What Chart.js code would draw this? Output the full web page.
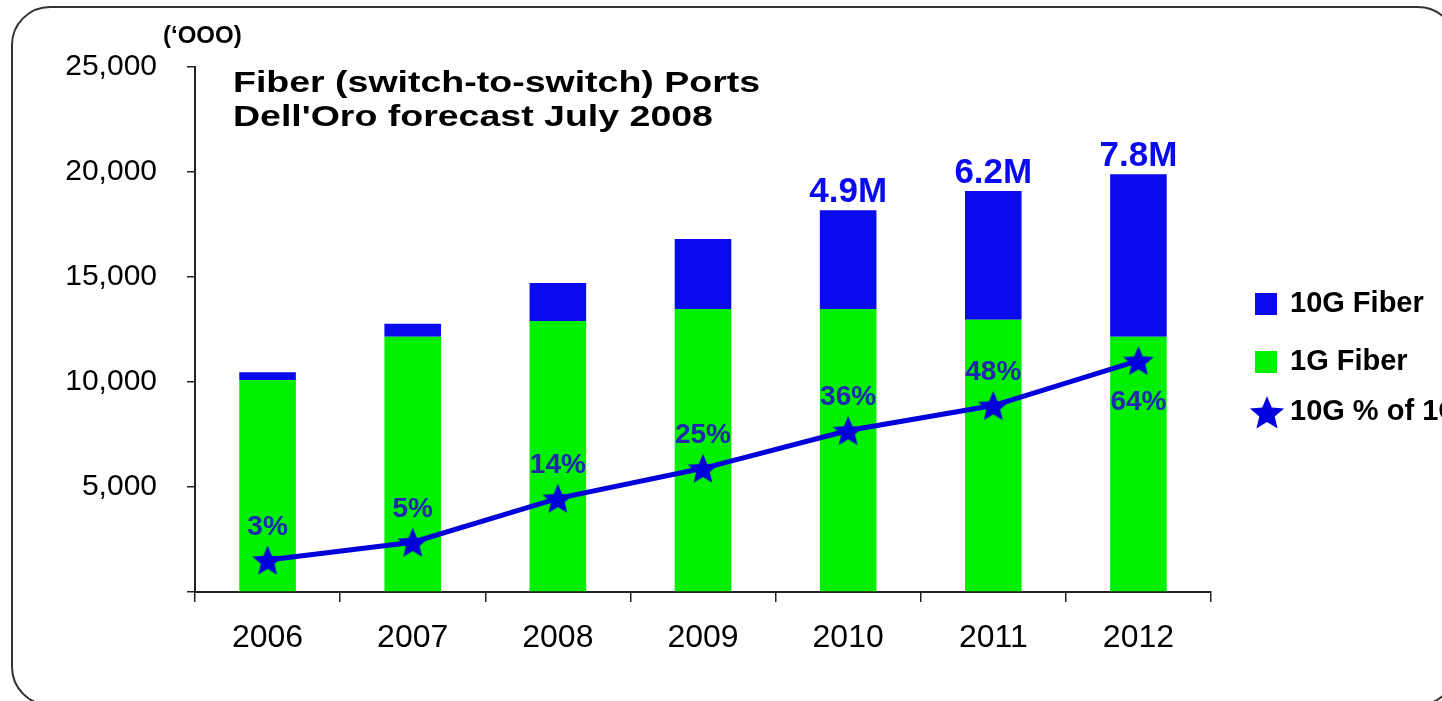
<!DOCTYPE html>
<html>
<head>
<meta charset="utf-8">
<style>
  html, body { margin: 0; padding: 0; background: #fff; }
  #wrap { width: 1442px; height: 701px; }
</style>
<script src="https://cdn.jsdelivr.net/npm/chart.js@4.4.0/dist/chart.umd.min.js"></script>
</head>
<body>
<div id="wrap"><canvas id="chart"></canvas></div>
<script>
// ports in thousands
const years = ['2006', '2007', '2008', '2009', '2010', '2011', '2012'];
const oneGig = [10100, 12150, 12910, 13480, 13480, 12960, 12150];
const tenGig = [360, 620, 1810, 3330, 4700, 6130, 7740];
// height of the star line, in the left axis units
const shareLevel = [1520, 2370, 4460, 5890, 7690, 8880, 11020];
const shareText = ['3%', '5%', '14%', '25%', '36%', '48%', '64%'];
const totalText = ['', '', '', '', '4.9M', '6.2M', '7.8M'];
const titleLines = ['Fiber (switch-to-switch) Ports', "Dell'Oro forecast July 2008"];

const GREEN = '#00f000';
const BLUE = '#0a0aee';
const LINE_BLUE = '#0000dd';
const LABEL_BLUE = '#2028b0';
const SANS = "'Liberation Sans', Arial, sans-serif";

function drawStar(g, R, color) {
  const r = R * 0.45;
  g.beginPath();
  for (let i = 0; i < 10; i++) {
    const a = -Math.PI / 2 + i * Math.PI / 5;
    const rad = i % 2 ? r : R;
    g.lineTo(Math.cos(a) * rad, Math.sin(a) * rad);
  }
  g.closePath();
  g.fillStyle = color;
  g.fill();
}

function starCanvas(R, color) {
  const c = document.createElement('canvas');
  const s = Math.ceil(R * 2 + 2);
  c.width = s; c.height = s;
  const g = c.getContext('2d');
  g.translate(s / 2, s / 2 + R * 0.095);
  drawStar(g, R, color);
  return c;
}

function stretchText(ctx, txt, x, y, sx) {
  ctx.save();
  ctx.translate(x, y);
  ctx.scale(sx, 1);
  ctx.fillText(txt, 0, 0);
  ctx.restore();
}

const overlay = {
  id: 'overlay',
  beforeDraw(chart) {
    const ctx = chart.ctx;
    // rounded frame, runs off the right and bottom edges
    const x0 = 12, y0 = 7, x1 = 1456, y1 = 705, rad = 38;
    ctx.save();
    ctx.strokeStyle = '#333';
    ctx.lineWidth = 2;
    ctx.beginPath();
    ctx.moveTo(x0 + rad, y0);
    ctx.arcTo(x1, y0, x1, y1, rad);
    ctx.arcTo(x1, y1, x0, y1, rad);
    ctx.arcTo(x0, y1, x0, y0, rad);
    ctx.arcTo(x0, y0, x1, y0, rad);
    ctx.closePath();
    ctx.stroke();
    ctx.restore();
  },
  afterDatasetsDraw(chart) {
    const ctx = chart.ctx;
    const barMeta = chart.getDatasetMeta(1);
    const lineMeta = chart.getDatasetMeta(2);
    ctx.save();
    ctx.textAlign = 'center';

    ctx.font = `bold 35px ${SANS}`;
    ctx.fillStyle = BLUE;
    ctx.textBaseline = 'alphabetic';
    totalText.forEach((t, i) => {
      if (!t) return;
      const bar = barMeta.data[i];
      ctx.fillText(t, bar.x, bar.y - 8);
    });

    ctx.font = `bold 28px ${SANS}`;
    ctx.fillStyle = LABEL_BLUE;
    ctx.textBaseline = 'middle';
    shareText.forEach((t, i) => {
      const p = lineMeta.data[i];
      const last = i === shareText.length - 1;
      ctx.fillText(t, p.x, last ? p.y + 42 : p.y - 33);
    });
    ctx.restore();
  },
  afterDraw(chart) {
    const ctx = chart.ctx;
    const area = chart.chartArea;
    ctx.save();
    ctx.fillStyle = '#000';
    ctx.textAlign = 'left';
    ctx.textBaseline = 'middle';

    ctx.font = `bold 24px ${SANS}`;
    ctx.fillText("(\u2018OOO)", 163, 36);

    ctx.font = `bold 30px ${SANS}`;
    titleLines.forEach((t, i) => stretchText(ctx, t, area.left + 38, 84 + i * 34, 1.25));

    // legend
    const ds = chart.data.datasets;
    const lx = area.right + 44;
    const items = [
      { label: ds[1].label, color: ds[1].backgroundColor, y: 304 },
      { label: ds[0].label, color: ds[0].backgroundColor, y: 362 },
      { label: ds[2].label, star: true, y: 412 },
    ];
    ctx.font = `bold 29px ${SANS}`;
    items.forEach(it => {
      if (it.star) {
        ctx.save();
        ctx.translate(lx + 12, it.y + 2);
        drawStar(ctx, 18, LINE_BLUE);
        ctx.restore();
      } else {
        ctx.fillStyle = it.color;
        ctx.fillRect(lx, it.y - 11, 22, 22);
      }
      ctx.fillStyle = '#000';
      ctx.fillText(it.label, lx + 35, it.y);
    });
    ctx.restore();
  },
};

const axisColor = '#222';

new Chart(document.getElementById('chart'), {
  data: {
    labels: years,
    datasets: [
      { type: 'bar', label: '1G Fiber', data: oneGig, backgroundColor: GREEN, order: 2,
        barPercentage: 0.78, categoryPercentage: 0.5 },
      { type: 'bar', label: '10G Fiber', data: tenGig, backgroundColor: BLUE, order: 2,
        barPercentage: 0.78, categoryPercentage: 0.5 },
      { type: 'line', label: '10G % of 1G', data: shareLevel, yAxisID: 'y2', order: 0,
        borderColor: LINE_BLUE, borderWidth: 5, tension: 0,
        pointStyle: starCanvas(16, LINE_BLUE), pointRadius: 16 },
    ],
  },
  options: {
    responsive: true,
    maintainAspectRatio: false,
    animation: false,
    layout: { padding: { top: 67, right: 231, bottom: 0, left: 0 } },
    plugins: { legend: { display: false }, tooltip: { enabled: false } },
    scales: {
      x: {
        stacked: true,
        afterFit: s => { s.height = 109; },
        border: { color: axisColor, width: 2 },
        grid: { drawOnChartArea: false, drawTicks: true, tickLength: 10, color: axisColor, lineWidth: 1.5 },
        ticks: {
          color: '#000', padding: 17,
          font: { family: SANS, size: 32 },
        },
      },
      y: {
        stacked: true,
        min: 0, max: 25000,
        afterFit: s => { s.width = 195; },
        border: { color: axisColor, width: 2 },
        grid: { drawOnChartArea: false, drawTicks: true, tickLength: 8, color: axisColor, lineWidth: 1.5 },
        ticks: {
          stepSize: 5000, color: '#000', padding: 30,
          font: { family: SANS, size: 30 },
          callback: v => (v === 0 ? '' : v.toLocaleString('en-US')),
        },
      },
      y2: { display: false, min: 0, max: 25000 },
    },
  },
  plugins: [overlay],
});
</script>
</body>
</html>
